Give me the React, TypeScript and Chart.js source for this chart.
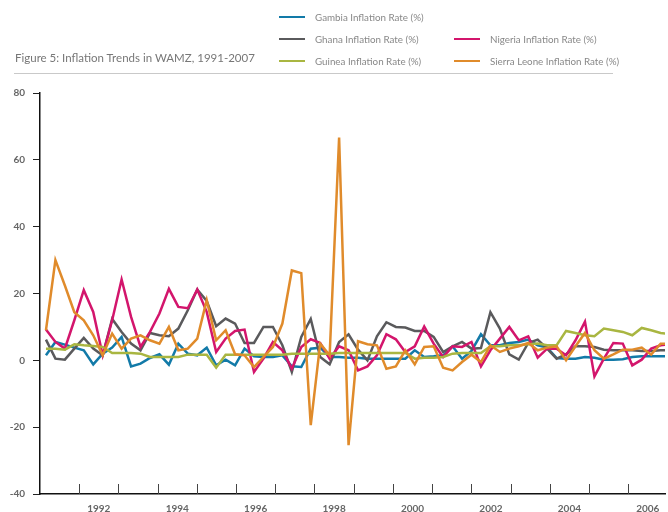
import React, { useEffect, useRef } from 'react';
import { Chart, registerables } from 'chart.js';

Chart.register(...registerables);

// Quarterly observations, 1991Q1 onward
const gambia = [1.5, 5.5, 4.7, 3.8, 3, -1.2, 2, 3.8, 7, -1.8, -1, 0.7, 1.8, -1.3, 5, 2, 1.5, 3.8, -1.5, 0.2, -1.5, 3.5, 1.2, 1, 1, 1.5, -1.8, -2, 3.5, 3.8, 1, 1, 0.8, 0.8, 0.5, 0.5, 0.5, 0.5, 0.5, 3, 1, 1.2, 1.5, 4.2, 0.5, 2.8, 7.8, 4.5, 4.5, 5.2, 5.5, 6.2, 4.5, 3.8, 0.7, 0.5, 0.5, 1, 0.8, 0.2, 0.2, 0.3, 1, 1.2, 1.2, 1.2, 1.2];
const ghana = [6.2, 0.5, 0.2, 3.5, 6.7, 3.5, 1.5, 12.4, 8.5, 5, 3, 8.2, 7.5, 7.2, 9.5, 15, 21.2, 17.8, 10.2, 12.5, 11, 5.2, 5.2, 10, 10, 4.5, -3.5, 7, 12.4, 1, -1.2, 5.5, 7.8, 3.2, 0, 7.2, 11.4, 10, 9.8, 8.8, 8.8, 7, 2.5, 4.2, 5.5, 3.5, 3.7, 14.4, 9.5, 1.8, 0.2, 5.2, 6.2, 3.5, 0.5, 1.8, 4.2, 4.2, 4, 3.2, 3, 3, 3, 2.8, 2.8, 3, 3];
const nigeria = [9.2, 5.5, 3.5, 12, 21, 14.5, 1.5, 12, 24.2, 13, 4, 8.5, 14, 21.4, 16, 15.6, 21.2, 14.5, 2.5, 6.5, 8.8, 9.2, -3.5, 0.5, 5.5, 3, -2.5, 4, 6.3, 5.2, 0.5, 4.2, 3, -3, -1.8, 1.5, 7.8, 6.3, 2.5, 4.2, 10.1, 5, 1, 4.2, 4, 5.5, -1.8, 3, 6.5, 10, 6, 7.2, 0.8, 3.5, 3.5, 1.5, 6, 11.6, -4.8, 0.5, 5.2, 5, -1.5, 0.2, 3.5, 4.5, 4.8];
const guinea = [3.5, 3.5, 3.2, 4.8, 4.5, 4.3, 4, 2.2, 2.2, 2.2, 2, 1, 1, 1, 1, 1.7, 1.7, 1.7, -2.2, 1.7, 1.7, 1.7, 1.7, 1.7, 1.7, 1.7, 2, 2, 2, 2, 2, 2.2, 2.2, 2.2, 2.2, 2.2, 2.2, 2.2, 2.2, 0.5, 0.8, 0.8, 1, 2, 2.2, 2.2, 2.2, 4.2, 4.2, 4.5, 4.5, 4.8, 5, 4.5, 4.5, 8.8, 8.2, 7.5, 7.2, 9.5, 9, 8.5, 7.5, 9.7, 9, 8.2, 7.8];
const sierraLeone = [9, 30, 22.4, 14.4, 12, 7.5, 1.5, 8, 3.5, 6.5, 7.5, 6, 5, 10, 3, 3.5, 6.5, 18, 6, 9, 1.8, 1.5, -2, 1, 4, 11, 26.9, 26.1, -19.4, 5, 1.5, 66.7, -25.4, 5.7, 4.8, 4.5, -2.5, -1.8, 3, -1.2, 4, 4.2, -2.2, -3, -0.5, 1.7, -0.5, 4.5, 2.5, 3.5, 4.2, 5.2, 3, 3.8, 4.2, 0, 4.2, 8.2, 3, 0.5, 1.8, 3.2, 3.2, 3.8, 1.7, 5, 5];

const yearBoundaries = [1992, 1993, 1994, 1995, 1996, 1997, 1998, 1999, 2000, 2001, 2002, 2003, 2004, 2005, 2006];
const yearLabels = [1992, 1994, 1996, 1998, 2000, 2002, 2004, 2006];
const yTicks = [-40, -20, 0, 20, 40, 60, 80];

const seriesNames = [
  'Gambia Inflation Rate (%)',
  'Ghana Inflation Rate (%)',
  'Nigeria Inflation Rate (%)',
  'Guinea Inflation Rate (%)',
  'Sierra Leone Inflation Rate (%)',
];
const seriesColors = ['#127aa8', '#5a5a5c', '#d3156c', '#a9b641', '#e08b2b'];

const FONT = 'Lato, "Open Sans", sans-serif';

export default function App() {
  const ref = useRef<HTMLCanvasElement>(null);

  useEffect(() => {
    const canvas = ref.current;
    if (!canvas) return;
    const values = [gambia, ghana, nigeria, guinea, sierraLeone];
    const orders = [5, 4, 3, 2, 1];

    const yearMarks = {
      id: 'yearMarks',
      afterDatasetsDraw(chart: any) {
        const s = chart.scales.xYear;
        const c = chart.ctx;
        const bottom = chart.chartArea.bottom;
        c.save();
        c.strokeStyle = '#444';
        c.lineWidth = 1;
        yearBoundaries.forEach((yr) => {
          const px = Math.round(s.getPixelForValue(yr)) + 0.5;
          c.beginPath();
          c.moveTo(px, bottom);
          c.lineTo(px, bottom - 10);
          c.stroke();
        });
        c.restore();
      },
    };

    const chart = new Chart(canvas, {
      type: 'line',
      data: {
        datasets: values.map((arr, i) => ({
          label: seriesNames[i],
          data: arr.map((v, k) => ({ x: k, y: v })),
          borderColor: seriesColors[i],
          backgroundColor: seriesColors[i],
          borderWidth: 2.5,
          pointRadius: 0,
          tension: 0,
          order: orders[i],
          xAxisID: 'x',
          yAxisID: 'y',
        })),
      },
      options: {
        animation: false,
        responsive: true,
        maintainAspectRatio: false,
        layout: { padding: { top: 93, left: 0, right: 0, bottom: 0 } },
        plugins: { legend: { display: false }, tooltip: { enabled: false } },
        scales: {
          x: { type: 'linear', display: false, min: -0.63, max: 65.47 },
          xYear: {
            type: 'linear',
            position: 'bottom',
            min: 1991,
            max: 2006.94,
            afterBuildTicks: (s: any) => {
              s.ticks = yearLabels.map((y) => ({ value: y + 0.5 }));
            },
            afterFit: (s: any) => {
              s.height = 18;
            },
            ticks: {
              callback: (v: any) => String(Math.floor(Number(v))),
              font: { family: FONT, weight: 'bold', size: 10 },
              color: '#666',
              padding: 8.5,
              maxRotation: 0,
              autoSkip: false,
            },
            grid: { display: false, drawTicks: false },
            border: { display: true, color: '#111', width: 1.5 },
          },
          y: {
            type: 'linear',
            min: -40,
            max: 80,
            afterBuildTicks: (s: any) => {
              s.ticks = yTicks.map((v) => ({ value: v }));
            },
            afterFit: (s: any) => {
              s.width = 40;
            },
            ticks: {
              font: { family: FONT, weight: 'bold', size: 10 },
              color: '#666',
              padding: 8,
            },
            grid: { drawOnChartArea: false, tickLength: 7, color: '#222', lineWidth: 1 },
            border: { display: true, color: '#111', width: 1.5 },
          },
        },
      } as any,
      plugins: [yearMarks],
    });
    return () => chart.destroy();
  }, []);

  const legendItems = [
    { i: 0, left: 279, top: 16.7 },
    { i: 1, left: 279, top: 38.7 },
    { i: 2, left: 454, top: 38.7 },
    { i: 3, left: 279, top: 60.7 },
    { i: 4, left: 454, top: 60.7 },
  ];

  return (
    <div style={{ position: 'absolute', left: 0, top: 0, width: 668, height: 512, background: '#fff', overflow: 'hidden', fontFamily: FONT }}>
      <canvas ref={ref} style={{ position: 'absolute', left: 0, top: 0, width: 668, height: 512 }} />
      <div style={{ position: 'absolute', left: 15, top: 51, fontSize: 11.5, lineHeight: '14px', color: '#777', whiteSpace: 'nowrap' }}>
        Figure 5: Inflation Trends in WAMZ, 1991-2007
      </div>
      <div style={{ position: 'absolute', left: 14, top: 72.5, width: 599, height: 0, borderTop: '1.5px solid #c9c9c9' }} />
      {legendItems.map(({ i, left, top }) => (
        <div key={i} style={{ position: 'absolute', left, top: top - 6, height: 12, display: 'flex', alignItems: 'center', whiteSpace: 'nowrap' }}>
          <div style={{ width: 26, height: 2, background: seriesColors[i] }} />
          <span style={{ marginLeft: 10, fontSize: 9.8, lineHeight: '12px', color: '#888' }}>{seriesNames[i]}</span>
        </div>
      ))}
    </div>
  );
}
